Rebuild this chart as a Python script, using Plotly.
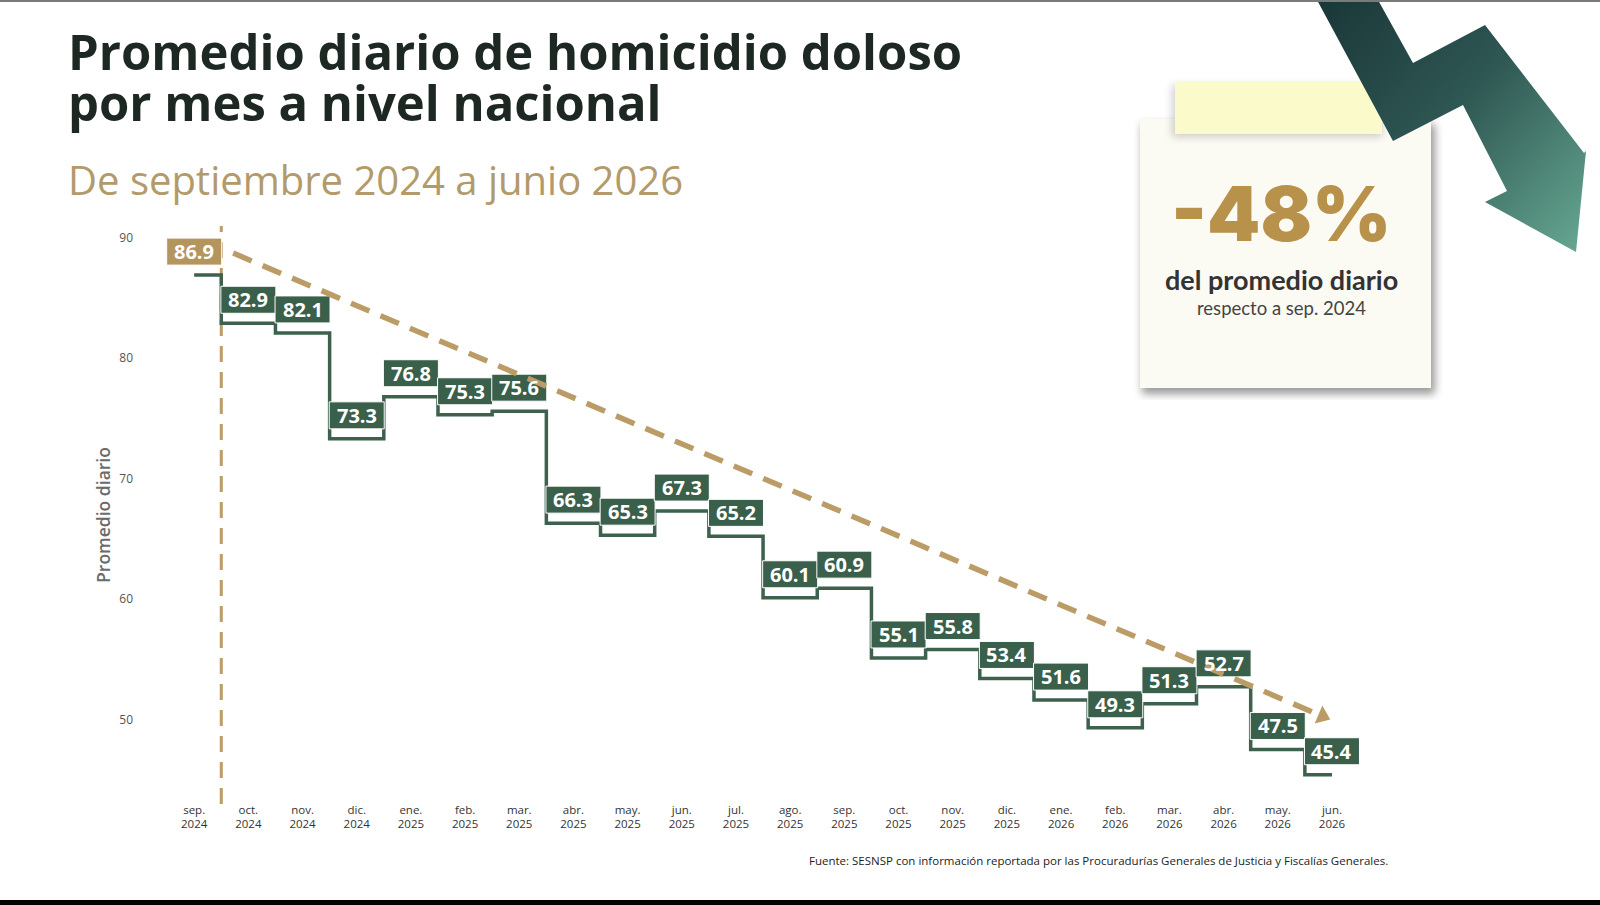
import base64, math
import plotly.graph_objects as go

# ---------------- data ----------------
months = ["sep.", "oct.", "nov.", "dic.", "ene.", "feb.", "mar.", "abr.", "may.", "jun.", "jul.",
          "ago.", "sep.", "oct.", "nov.", "dic.", "ene.", "feb.", "mar.", "abr.", "may.", "jun."]
years = ["2024", "2024", "2024", "2024", "2025", "2025", "2025", "2025", "2025", "2025", "2025",
         "2025", "2025", "2025", "2025", "2025", "2026", "2026", "2026", "2026", "2026", "2026"]
values = [86.9, 82.9, 82.1, 73.3, 76.8, 75.3, 75.6, 66.3, 65.3, 67.3, 65.2,
          60.1, 60.9, 55.1, 55.8, 53.4, 51.6, 49.3, 51.3, 52.7, 47.5, 45.4]
trend_x = [0.72, 20.96]
trend_y = [88.73, 50.0]
y_ticks = [50, 60, 70, 80, 90]

# ---------------- style ----------------
GREEN = "#3a5f4b"
LINE_GREEN = "#3d614d"
GOLD = "#b5955e"
TREND_GOLD = "#bb9c66"
W, H = 1600, 905
ML, MR, MT, MB = 140, 241, 226, 101
PW, PH = W - ML - MR, H - MT - MB
XR = [-1, 21.499]
YR = [42.97, 90.98]
PX_PER_X = PW / (XR[1] - XR[0])
PX_PER_Y = PH / (YR[1] - YR[0])


def xp(px):
    return (px - ML) / PW


def yp(py):
    return (MT + PH - py) / PH


idx = list(range(len(values)))
ticktext = [f"{m}<br>{y}" for m, y in zip(months, years)]

fig = go.Figure()
fig.add_trace(go.Scatter(x=idx, y=values, mode="lines",
                         line=dict(shape="hvh", color=LINE_GREEN, width=3.5),
                         hoverinfo="skip", showlegend=False))

# arrowhead of trend line
dxp = (trend_x[1] - trend_x[0]) * PX_PER_X
dyp = (trend_y[0] - trend_y[1]) * PX_PER_Y
ang = math.degrees(math.atan2(dyp, dxp))
L = math.hypot(dxp, dyp)
back = 8
hx = trend_x[1] - (trend_x[1] - trend_x[0]) * back / L
hy = trend_y[1] + (trend_y[0] - trend_y[1]) * back / L
fig.add_trace(go.Scatter(x=[hx], y=[hy], mode="markers",
                         marker=dict(symbol="triangle-right", size=17, angle=ang, color=TREND_GOLD,
                                     line=dict(width=0)),
                         hoverinfo="skip", showlegend=False))

shapes = []
# vertical dashed line between sep and oct 2024
shapes.append(dict(type="line", xref="x", yref="paper", x0=0.5, x1=0.5, y0=0, y1=1,
                   line=dict(color=TREND_GOLD, width=3, dash="16px,10px"), layer="below"))
# label boxes
for i, v in enumerate(values):
    shapes.append(dict(type="rect", xref="x", yref="y", xsizemode="pixel", ysizemode="pixel",
                       xanchor=i, yanchor=v, x0=-27.5, x1=27.5, y0=10, y1=37,
                       fillcolor=GOLD if i == 0 else GREEN,
                       line=dict(color="white", width=1), layer="above"))
# trend dashed line (above boxes)
f = (L - 16) / L
shapes.append(dict(type="line", xref="x", yref="y",
                   x0=trend_x[0], y0=trend_y[0],
                   x1=trend_x[0] + (trend_x[1] - trend_x[0]) * f,
                   y1=trend_y[0] + (trend_y[1] - trend_y[0]) * f,
                   line=dict(color=TREND_GOLD, width=5.5, dash="20px,12px"), layer="above"))
# top thin gray line and bottom black bar
shapes.append(dict(type="rect", xref="paper", yref="paper", x0=xp(0), x1=xp(W), y0=yp(0), y1=yp(2),
                   fillcolor="#7a7a7a", line=dict(width=0), layer="above"))
shapes.append(dict(type="rect", xref="paper", yref="paper", x0=xp(0), x1=xp(W), y0=yp(900), y1=yp(W),
                   fillcolor="#000000", line=dict(width=0), layer="above"))

annotations = []
for i, v in enumerate(values):
    annotations.append(dict(x=i, y=v, xref="x", yref="y", text=f"{v:.1f}", showarrow=False,
                            yanchor="middle", xanchor="center", yshift=23.5,
                            font=dict(family="Open Sans", size=20, color="white", weight=700)))


def txt(text, px, py, size, color, family="Open Sans", weight=400, xanchor="left"):
    annotations.append(dict(text=text, x=xp(px), y=yp(py), xref="paper", yref="paper",
                            showarrow=False, xanchor=xanchor, yanchor="middle",
                            font=dict(family=family, size=size, color=color, weight=weight)))


txt("Promedio diario de homicidio doloso", 66, 51, 49, "#1e2823", weight=700)
txt("por mes a nivel nacional", 66, 102, 49, "#1e2823", weight=700)
txt("De septiembre 2024 a junio 2026", 66, 179, 40, "#b39a6b")
txt("Fuente: SESNSP con información reportada por las Procuradurías Generales de Justicia y Fiscalías Generales.",
    1390, 860, 11.5, "#222222", xanchor="right")

# sticky note + arrow decoration
svg = """<svg xmlns='http://www.w3.org/2000/svg' width='480' height='400' viewBox='0 0 480 400'>
<defs>
<linearGradient id='g' gradientUnits='userSpaceOnUse' x1='210' y1='0' x2='470' y2='250'>
<stop offset='0' stop-color='#1b3839'/><stop offset='0.45' stop-color='#2e5652'/><stop offset='1' stop-color='#68aa94'/>
</linearGradient>
<filter id='sh' x='-15%' y='-15%' width='140%' height='140%'><feGaussianBlur stdDeviation='4'/></filter>
</defs>
<rect x='22' y='124' width='293' height='270' fill='#000' opacity='0.4' filter='url(#sh)'/>
<rect x='20' y='119' width='291' height='269' fill='#fbfaf3'/>
<rect x='52' y='85' width='210' height='52' fill='#000' opacity='0.18' filter='url(#sh)'/>
<rect x='55' y='82' width='207' height='52' fill='#fafacb'/>
<polygon points='197,0 258,0 293,63 365,25 464,153 466,151 456,252 365,202 387,191 343,105 273,141' fill='url(#g)'/>
</svg>"""
src = "data:image/svg+xml;base64," + base64.b64encode(svg.encode()).decode()

txt("-48%", 1281, 213, 76, "#b8924a", family="Inter", weight=900, xanchor="center")
txt("del promedio diario", 1281, 279, 27, "#333333", family="Lato", weight=700, xanchor="center")
txt("respecto a sep. 2024", 1281, 308, 18.5, "#444444", family="Lato", weight=400, xanchor="center")

fig.update_layout(
    width=W, height=H,
    margin=dict(l=ML, r=MR, t=MT, b=MB, pad=0),
    paper_bgcolor="white", plot_bgcolor="white",
    showlegend=False,
    shapes=shapes, annotations=annotations,
    images=[dict(source=src, xref="paper", yref="paper", x=xp(1120), y=yp(0),
                 sizex=480 / PW, sizey=400 / PH, xanchor="left", yanchor="top",
                 sizing="stretch", layer="above")],
    xaxis=dict(range=XR, tickmode="array", tickvals=idx, ticktext=ticktext,
               showgrid=False, zeroline=False, showline=False, ticks="",
               tickfont=dict(family="Open Sans", size=11.5, color="#333333"),
               ticklabelstandoff=-3),
    yaxis=dict(range=YR, tickmode="array", tickvals=y_ticks, ticktext=[str(t) for t in y_ticks],
               showgrid=False, zeroline=False, showline=False, ticks="",
               tickfont=dict(family="Open Sans", size=12, color="#555555"),
               ticklabelstandoff=6,
               title=dict(text="Promedio diario", standoff=4,
                          font=dict(family="Open Sans", size=17.5, color="#6b6b6b", weight=600))),
)

fig.write_html("out.html")
